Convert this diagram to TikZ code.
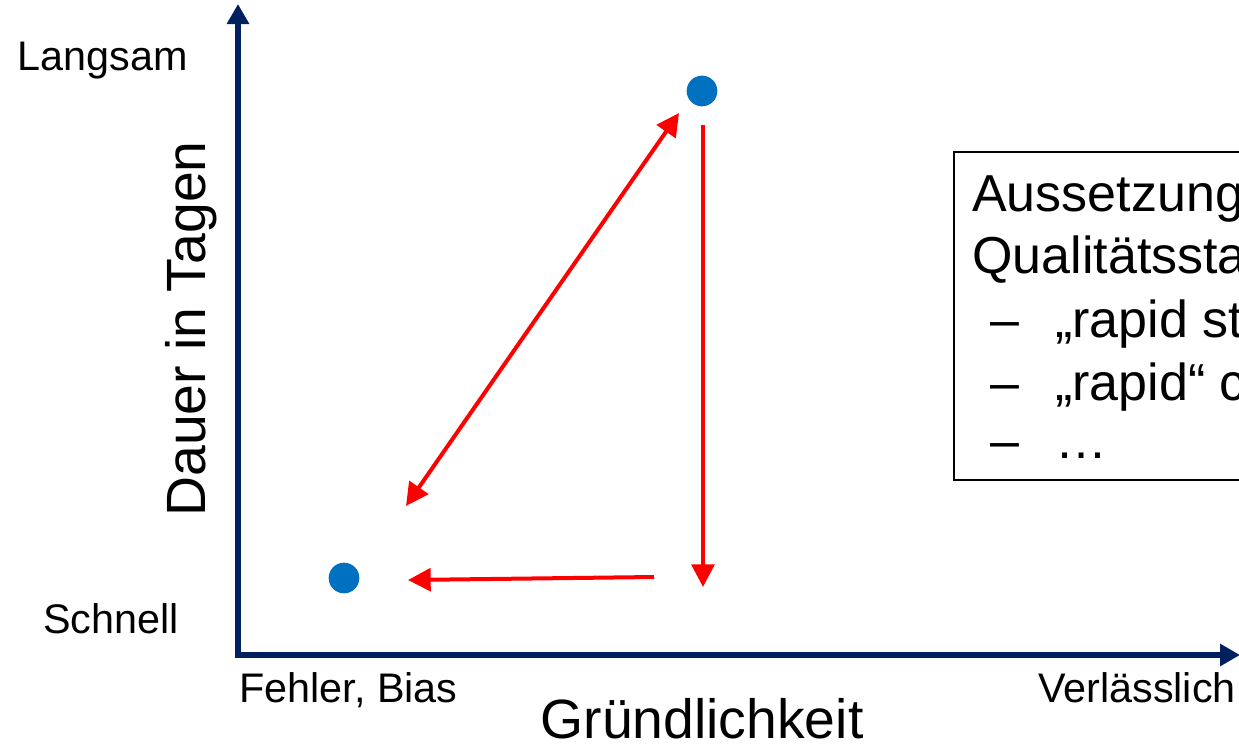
\documentclass[tikz,border=0pt]{standalone}
\usepackage{fontspec}
\setmainfont{Liberation Sans}
\usetikzlibrary{arrows.meta}
\definecolor{navy}{HTML}{002060}
\definecolor{dotblue}{HTML}{0070C0}
\definecolor{arrred}{HTML}{FF0000}
\begin{document}
\begin{tikzpicture}[x=0.75pt,y=-0.75pt,
  axis/.style={draw=navy,line width=4.5pt,{Triangle[length=15pt,width=16pt]}-{Triangle[length=15pt,width=16pt]}},
  redarrow/.style={draw=arrred,line width=3pt,-{Triangle[length=17pt,width=17pt]}},
  reddouble/.style={draw=arrred,line width=3pt,{Triangle[length=17pt,width=17pt]}-{Triangle[length=17pt,width=17pt]}},
  dot/.style={circle,fill=dotblue,inner sep=0pt,minimum size=23pt},
  smalllabel/.style={font=\fontsize{31}{36}\selectfont,inner sep=0pt},
  biglabel/.style={font=\fontsize{41.5}{48}\selectfont,inner sep=0pt},
  boxtext/.style={font=\fontsize{39}{46}\selectfont,inner sep=0pt,anchor=base west}]
\useasboundingbox (0,0) rectangle (1239,747);
\clip (0,0) rectangle (1239,747);
\fill[white] (0,0) rectangle (1239,747);
% axes
\coordinate (ytop) at (238,4);
\coordinate (O) at (238,655);
\coordinate (xend) at (1240,655);
\draw[axis] (ytop) -- (O) -- (xend);
% points
\node[dot] (p1) at (702,91) {};
\node[dot] (p2) at (344,578) {};
% red arrows
\coordinate (dA) at (406,506);
\coordinate (dB) at (679,113);
\draw[reddouble] (dA) -- (dB);
\coordinate (vA) at (703,125);
\coordinate (vB) at (703,587);
\draw[redarrow] (vA) -- (vB);
\coordinate (hA) at (654,577);
\coordinate (hB) at (408,580);
\draw[redarrow] (hA) -- (hB);
% axis labels
\node[smalllabel,anchor=base east] (langsam) at (188,70) {Langsam};
\node[smalllabel,anchor=base east] (schnell) at (179,633) {Schnell};
\node[smalllabel,anchor=base west] (fehler) at (239,702) {Fehler, Bias};
\node[smalllabel,anchor=base west] (verl) at (1038,702) {Verlässlich};
\node[biglabel,anchor=base] (gruend) at (702,738) {Gründlichkeit};
\node[biglabel,rotate=90,anchor=base] (dauer) at (205,329) {Dauer in Tagen};
% box
\draw[line width=1pt,black] (954,152) rectangle (1260,480);
\node[boxtext] (t1) at (972,211) {Aussetzung};
\node[boxtext] (t2) at (972,273) {Qualitätssta};
\node[boxtext] (d1) at (990,337) {–};
\node[boxtext] (t3) at (1055,337) {„rapid st};
\node[boxtext] (d2) at (990,400) {–};
\node[boxtext] (t4) at (1055,400) {„rapid“ c};
\node[boxtext] (d3) at (990,458) {–};
\node[boxtext] (t5) at (1055,458) {…};
\end{tikzpicture}
\end{document}
